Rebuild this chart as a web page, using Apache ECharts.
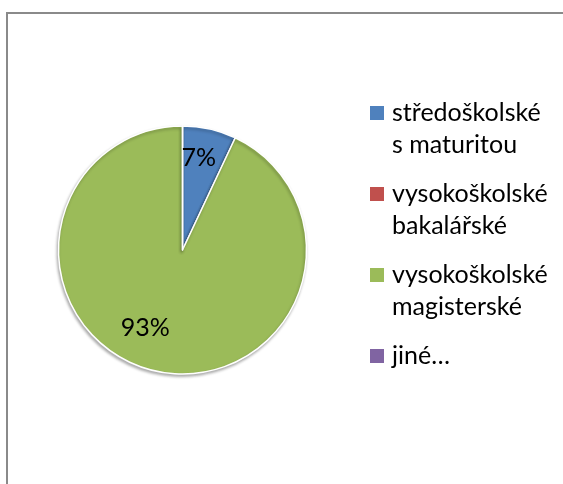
<!DOCTYPE html>
<html>
<head>
<meta charset="utf-8">
<script src="https://cdn.jsdelivr.net/npm/echarts@6/dist/echarts.min.js"></script>
<style>
html,body{margin:0;padding:0;background:#fff;}
#chart{width:563px;height:484px;}
</style>
</head>
<body>
<div id="chart"></div>
<script>
const categories = ['středoškolské s maturitou', 'vysokoškolské bakalářské', 'vysokoškolské magisterské', 'jiné…'];
const legendLabels = ['středoškolské\ns maturitou', 'vysokoškolské\nbakalářské', 'vysokoškolské\nmagisterské', 'jiné…\n'];
const values = [7, 0, 93, 0];
const colors = ['#4F81BD', '#C0504D', '#9BBB59', '#8064A2'];
const labelOffsets = [[2, -29], [0, 0], [-23, 14.5], [0, 0]];

const FONT = 'Lato, "Liberation Sans", sans-serif';
const chart = echarts.init(document.getElementById('chart'), null, {renderer: 'canvas'});

const pieData = categories.map((name, i) => ({
  name: name,
  value: values[i],
  itemStyle: {color: colors[i]},
  label: {show: values[i] > 0, offset: labelOffsets[i]}
}));

chart.setOption({
  animation: false,
  backgroundColor: '#ffffff',
  graphic: [{
    type: 'rect',
    shape: {x: 7, y: 13, width: 600, height: 520},
    style: {fill: 'none', stroke: '#8a8a8a', lineWidth: 2},
    silent: true
  }],
  legend: {
    orient: 'vertical',
    left: 370,
    top: 65,
    padding: 0,
    itemWidth: 14,
    itemHeight: 14,
    itemGap: -15,
    icon: 'rect',
    itemStyle: {borderWidth: 0, borderColor: 'transparent', shadowBlur: 0, shadowOffsetX: 0, shadowOffsetY: 0, shadowColor: 'transparent'},
    data: categories,
    formatter: function (name) { return '\n' + legendLabels[categories.indexOf(name)]; },
    textStyle: {fontFamily: FONT, fontSize: 25, lineHeight: 32, color: '#000', padding: [0, 0, 0, 3]},
    selectedMode: false
  },
  series: [{
    type: 'pie',
    center: [182.5, 250],
    radius: 124,
    startAngle: 90,
    clockwise: true,
    avoidLabelOverlap: false,
    silent: true,
    data: pieData,
    itemStyle: {borderColor: '#ffffff', borderWidth: 1.5,
      shadowBlur: 3, shadowOffsetX: -1, shadowOffsetY: 2, shadowColor: 'rgba(0,0,0,0.3)'},
    label: {position: 'inside', formatter: '{d}%', fontFamily: FONT, fontSize: 25, color: '#000'},
    labelLine: {show: false},
    emphasis: {disabled: true}
  }]
});
</script>
</body>
</html>
